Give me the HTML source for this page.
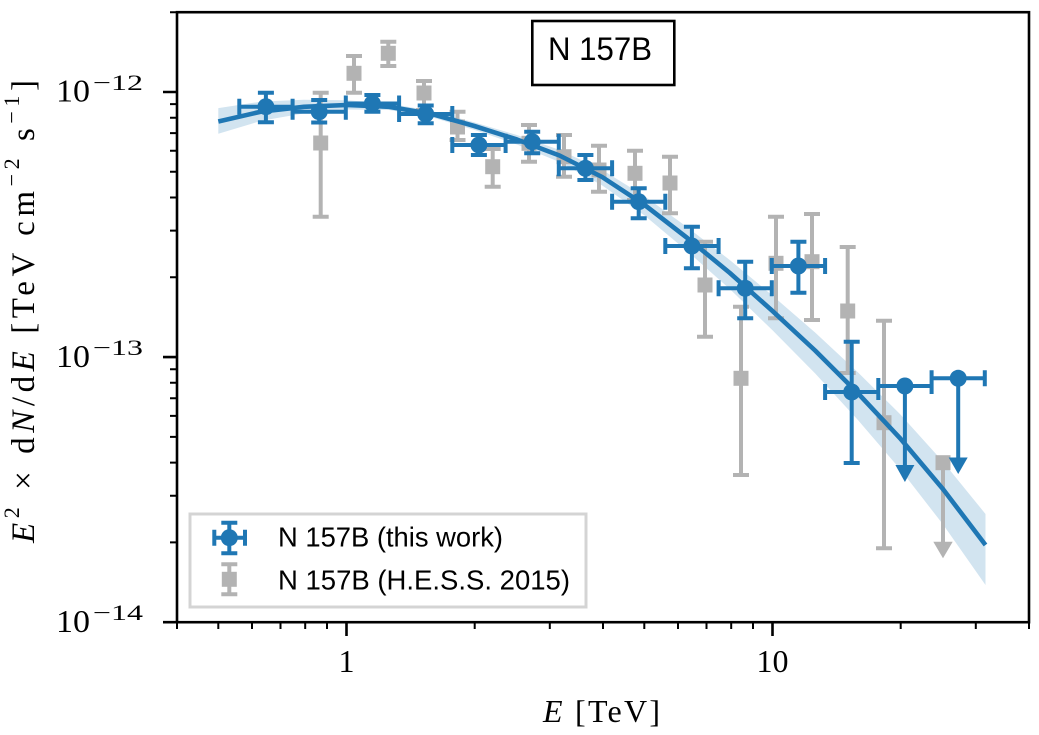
<!DOCTYPE html>
<html><head><meta charset="utf-8"><style>
html,body{margin:0;padding:0;background:#fff;}
svg{display:block;}
.serif{font-family:"Liberation Serif","DejaVu Serif",serif;}
.sans{font-family:"Liberation Sans","DejaVu Sans",sans-serif;}
</style></head><body>
<svg width="1039" height="735" viewBox="0 0 1039 735" xmlns="http://www.w3.org/2000/svg">
<rect x="0" y="0" width="1039" height="735" fill="#fff"/>

<!-- confidence band -->
<polygon fill="#1f77b4" fill-opacity="0.2" points="218.3,108.1 261.3,101.6 303.9,99.7 346.5,100.3 389.1,103.6 431.7,110.9 474.3,122.4 516.9,135.0 559.5,149.9 602.1,169.9 644.7,196.2 687.3,227.3 729.9,260.1 772.5,295.6 815.1,332.5 857.7,372.1 900.3,414.4 942.9,461.6 985.5,514.0 985.5,585.0 942.9,524.3 900.3,469.4 857.7,419.7 815.1,373.4 772.5,330.3 729.9,289.1 687.3,251.2 644.7,215.6 602.1,185.4 559.5,162.0 516.9,144.5 474.3,129.9 431.7,117.2 389.1,110.0 346.5,109.5 303.9,113.4 261.3,120.8 218.3,133.8"/>

<!-- gray (H.E.S.S. 2015) -->
<g stroke="#b3b3b3" stroke-width="4" fill="none">
<path d="M320.7 92.7V216.7M312.7 92.7H328.7M312.7 216.7H328.7
M354 56V92.7M346 56H362M346 92.7H362
M388.3 41.7V66M380.3 41.7H396.3M380.3 66H396.3
M424 81V110M416 81H432M416 110H432
M457.5 111.7V140M449.5 111.7H465.5M449.5 140H465.5
M492.7 149V186.7M484.7 149H500.7M484.7 186.7H500.7
M529 125V161.7M521 125H537M521 161.7H537
M564 135V176.7M556 135H572M556 176.7H572
M599 145.7V191.7M591 145.7H607M591 191.7H607
M635 150.7V200M627 150.7H643M627 200H643
M670 156.7V213.3M662 156.7H678M662 213.3H678
M705 241.7V336.7M697 241.7H713M697 336.7H713
M741 306.7V475M733 306.7H749M733 475H749
M776 216.7V318.3M768 216.7H784M768 318.3H784
M812 214V320M804 214H820M804 320H820
M847.7 247V373M839.7 247H855.7M839.7 373H855.7
M884 320.7V548.3M876 320.7H892M876 548.3H892
M943 462.7V543"/>
</g>
<g fill="#b3b3b3">
<rect x="313.2" y="135.5" width="15" height="15"/>
<rect x="346.5" y="65.8" width="15" height="15"/>
<rect x="380.8" y="45.8" width="15" height="15"/>
<rect x="416.5" y="85.5" width="15" height="15"/>
<rect x="450" y="119.5" width="15" height="15"/>
<rect x="485.2" y="159.2" width="15" height="15"/>
<rect x="521.5" y="135.8" width="15" height="15"/>
<rect x="556.5" y="149.2" width="15" height="15"/>
<rect x="591.5" y="162.5" width="15" height="15"/>
<rect x="627.5" y="165.8" width="15" height="15"/>
<rect x="662.5" y="175.5" width="15" height="15"/>
<rect x="697.5" y="277.5" width="15" height="15"/>
<rect x="733.5" y="370.8" width="15" height="15"/>
<rect x="768.5" y="255.8" width="15" height="15"/>
<rect x="804.5" y="254.2" width="15" height="15"/>
<rect x="840.2" y="303.5" width="15" height="15"/>
<rect x="876.5" y="415.2" width="15" height="15"/>
<rect x="935.5" y="455.2" width="15" height="15"/>
<polygon points="933.3,541.7 952.7,541.7 943,558.3"/>
</g>

<!-- fit line -->
<polyline fill="none" stroke="#1f77b4" stroke-width="4.6" stroke-linejoin="round" points="218.3,121.5 261.3,111.6 303.9,106.8 346.5,105.0 389.1,106.8 431.7,114.0 474.3,126.0 516.9,139.5 559.5,155.5 602.1,177.0 644.7,205.0 687.3,238.0 729.9,273.0 772.5,311.0 815.1,350.5 857.7,393.0 900.3,438.5 942.9,489.0 985.5,545.0"/>

<!-- blue (this work) -->
<g stroke="#1f77b4" stroke-width="4" fill="none">
<path d="M239.3 106.7H292.6M265.9 92.7V122.3M239.3 98.7V114.7M292.6 98.7V114.7M257.9 92.7H273.9M257.9 122.3H273.9
M292.6 111.7H345.8M319.2 100V122.5M292.6 103.7V119.7M345.8 103.7V119.7M311.2 100H327.2M311.2 122.5H327.2
M345.8 103.5H399.1M372.4 95V111.7M345.8 95.5V111.5M399.1 95.5V111.5M364.4 95H380.4M364.4 111.7H380.4
M399.1 114H452.3M425.7 105.5V123.3M399.1 106V122M452.3 106V122M417.7 105.5H433.7M417.7 123.3H433.7
M452.3 145H505.6M478.9 135V155M452.3 137V153M505.6 137V153M470.9 135H486.9M470.9 155H486.9
M505.6 141.7H558.8M532.2 131.7V153.3M505.6 133.7V149.7M558.8 133.7V149.7M524.2 131.7H540.2M524.2 153.3H540.2
M558.8 168.3H612.1M585.4 155V180M558.8 160.3V176.3M612.1 160.3V176.3M577.4 155H593.4M577.4 180H593.4
M612.1 201.7H665.3M638.7 188.3V218.3M612.1 193.7V209.7M665.3 193.7V209.7M630.7 188.3H646.7M630.7 218.3H646.7
M665.3 246H718.6M691.9 226.7V268.3M665.3 238V254M718.6 238V254M683.9 226.7H699.9M683.9 268.3H699.9
M718.6 288.3H771.8M745.2 261.7V318.3M718.6 280.3V296.3M771.8 280.3V296.3M737.2 261.7H753.2M737.2 318.3H753.2
M771.8 266H825.1M798.4 241.7V292.7M771.8 258V274M825.1 258V274M790.4 241.7H806.4M790.4 292.7H806.4
M825.1 392H878.3M851.7 341.7V463M825.1 384V400M878.3 384V400M843.7 341.7H859.7M843.7 463H859.7
M878.3 386H931.6M904.9 386V466M878.3 378V394M931.6 378V394
M931.6 378.3H984.8M958.2 378.3V458M931.6 370.3V386.3M984.8 370.3V386.3"/>
</g>
<g fill="#1f77b4">
<circle cx="265.9" cy="106.7" r="8.5"/>
<circle cx="319.2" cy="111.7" r="8.5"/>
<circle cx="372.4" cy="103.5" r="8.5"/>
<circle cx="425.7" cy="114" r="8.5"/>
<circle cx="478.9" cy="145" r="8.5"/>
<circle cx="532.2" cy="141.7" r="8.5"/>
<circle cx="585.4" cy="168.3" r="8.5"/>
<circle cx="638.7" cy="201.7" r="8.5"/>
<circle cx="691.9" cy="246" r="8.5"/>
<circle cx="745.2" cy="288.3" r="8.5"/>
<circle cx="798.4" cy="266" r="8.5"/>
<circle cx="851.7" cy="392" r="8.5"/>
<circle cx="904.9" cy="386" r="8.5"/>
<circle cx="958.2" cy="378.3" r="8.5"/>
<polygon points="895.4,465 914.4,465 904.9,482"/>
<polygon points="948.7,457.5 967.7,457.5 958.2,474"/>
</g>

<!-- title box -->
<rect x="532.3" y="21" width="142" height="64" fill="#fff" stroke="#000" stroke-width="2.6"/>
<text class="sans" x="548" y="60" font-size="32" textLength="104" lengthAdjust="spacingAndGlyphs" fill="#000">N 157B</text>

<!-- legend -->
<rect x="190" y="514" width="396" height="93" fill="#fff" stroke="#d4d4d4" stroke-width="3"/>
<g stroke="#1f77b4" stroke-width="4" fill="none">
<path d="M214.3 537.7H245M229.3 522.7V553.3M214.3 529.7V545.7M245 529.7V545.7M221.3 522.7H237.3M221.3 553.3H237.3"/>
</g>
<circle cx="229.3" cy="537.7" r="8.5" fill="#1f77b4"/>
<g stroke="#b3b3b3" stroke-width="4" fill="none">
<path d="M229.3 564.3V594.3M221.3 564.3H237.3M221.3 594.3H237.3"/>
</g>
<rect x="221.8" y="571.8" width="15" height="15" fill="#b3b3b3"/>
<text class="sans" x="278" y="546.7" font-size="28" textLength="225" lengthAdjust="spacingAndGlyphs" fill="#000">N 157B (this work)</text>
<text class="sans" x="278" y="589.5" font-size="28" textLength="292" lengthAdjust="spacingAndGlyphs" fill="#000">N 157B (H.E.S.S. 2015)</text>

<!-- axes frame -->
<rect x="177" y="12.2" width="852" height="610" fill="none" stroke="#000" stroke-width="2.6"/>

<!-- x ticks -->
<g stroke="#000" stroke-width="2.6">
<path d="M346.5 622V636M772.5 622V636"/>
</g>
<g stroke="#000" stroke-width="2">
<path d="M177 622V629M218.3 622V629M252 622V629M280.5 622V629M305.2 622V629M327 622V629M474.7 622V629M549.8 622V629M603 622V629M644.3 622V629M678 622V629M706.5 622V629M731.2 622V629M753 622V629M900.7 622V629M975.8 622V629M1029 622V629"/>
</g>
<!-- y ticks -->
<g stroke="#000" stroke-width="2.6">
<path d="M163 92H177M163 357.1H177M163 622.2H177"/>
</g>
<g stroke="#000" stroke-width="2">
<path d="M170 542.4H177M170 495.7H177M170 462.6H177M170 436.9H177M170 415.9H177M170 398.2H177M170 382.8H177M170 369.2H177
M170 277.3H177M170 230.6H177M170 197.5H177M170 171.8H177M170 150.8H177M170 133.1H177M170 117.7H177M170 104.1H177M170 12.2H177"/>
</g>

<!-- tick labels -->
<g class="serif" fill="#000">
<text x="346.5" y="672" font-size="32" text-anchor="middle">1</text>
<text x="772.5" y="672" font-size="32" text-anchor="middle">10</text>

<text x="56" y="101.7" font-size="32" textLength="34" lengthAdjust="spacingAndGlyphs">10</text>
<text x="93" y="90" font-size="22" textLength="50" lengthAdjust="spacingAndGlyphs">−12</text>
<text x="56" y="366.8" font-size="32" textLength="34" lengthAdjust="spacingAndGlyphs">10</text>
<text x="93" y="355.1" font-size="22" textLength="50" lengthAdjust="spacingAndGlyphs">−13</text>
<text x="56" y="631.9" font-size="32" textLength="34" lengthAdjust="spacingAndGlyphs">10</text>
<text x="93" y="620.2" font-size="22" textLength="50" lengthAdjust="spacingAndGlyphs">−14</text>

<!-- x label -->
<text x="543" y="722" font-size="32" textLength="117" lengthAdjust="spacing"><tspan font-style="italic">E</tspan> [TeV]</text>

<!-- y label -->
<text transform="translate(34,543) rotate(-90)" x="0" y="0" font-size="33" textLength="463" lengthAdjust="spacing"><tspan font-style="italic">E</tspan><tspan font-size="22" dy="-15">2</tspan><tspan dy="15"> × d</tspan><tspan font-style="italic">N</tspan><tspan>/d</tspan><tspan font-style="italic">E</tspan><tspan> [TeV cm</tspan><tspan font-size="22" dy="-15">−2</tspan><tspan dy="15"> s</tspan><tspan font-size="22" dy="-15">−1</tspan><tspan dy="15">]</tspan></text>
</g>
</svg>
</body></html>
